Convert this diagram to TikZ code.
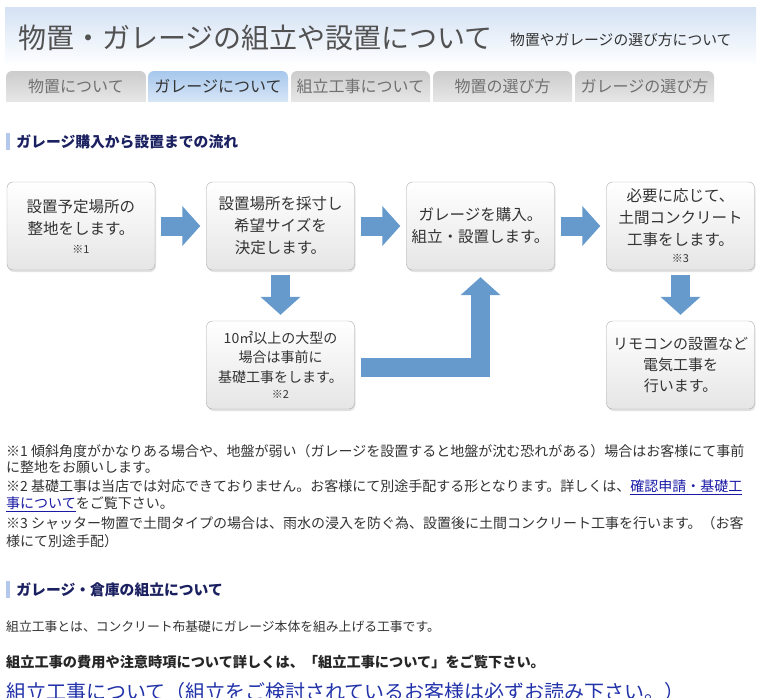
\documentclass[tikz,border=0pt]{standalone}
\usepackage{fontspec}
\setmainfont{Noto Sans CJK JP}
\usetikzlibrary{arrows.meta,shadows,positioning}

\definecolor{flowblue}{RGB}{102,153,204}
\definecolor{boxgray}{RGB}{170,170,170}
\definecolor{txtgray}{RGB}{51,51,51}
\definecolor{tabtxt}{RGB}{112,112,112}
\definecolor{headnavy}{RGB}{26,32,96}
\definecolor{barblue}{RGB}{180,200,238}
\definecolor{linkblue}{RGB}{26,26,166}
\definecolor{bigblue}{RGB}{34,51,170}
\definecolor{bandblue}{RGB}{212,226,244}

\tikzset{
  stepbox/.style={draw=boxgray, rounded corners=6pt, top color=white, bottom color=black!10,
    minimum width=148pt, minimum height=88pt, align=center, text=txtgray,
    font=\fontsize{15.5}{22}\selectfont,
    drop shadow={opacity=0.22, shadow xshift=1pt, shadow yshift=-2pt}},
  flow/.style={draw=flowblue, line width=19pt, -{Triangle[width=39pt,length=18pt]},
    shorten <=6pt, shorten >=6pt},
  tabshape/.style={rounded corners=6pt, top color=black!20, bottom color=black!6},
  tabon/.style={rounded corners=6pt, top color={rgb,255:red,166;green,199;blue,236}, bottom color={rgb,255:red,232;green,240;blue,250}},
  tablabel/.style={font=\fontsize{16}{18}\selectfont, text=tabtxt},
  secbar/.style={fill=barblue, minimum width=4pt, minimum height=17pt, inner sep=0pt},
  sechead/.style={font=\fontsize{14.8}{17}\selectfont\bfseries, text=headnavy, inner sep=0pt},
  note/.style={anchor=west, inner sep=0pt, font=\fontsize{14}{16}\selectfont, text=txtgray}
}

\begin{document}
\begin{tikzpicture}[x=1pt,y=-1pt]
    \useasboundingbox (0,0) rectangle (766,697);
    \fill[white] (0,0) rectangle (766,697);

    % header band
    \shade[top color=bandblue, middle color=bandblue!40, bottom color=white] (5,7) rectangle (756,66);
    \node[anchor=west, inner sep=0pt, font=\fontsize{28}{30}\selectfont, text=black!68] (title) at (18,38)
      {物置・ガレージの組立や設置について};
    \node[anchor=west, inner sep=0pt, font=\fontsize{14.8}{16}\selectfont, text=txtgray] (subtitle) at (510,40)
      {物置やガレージの選び方について};

    % tabs
    \begin{scope}
      \clip (0,60) rectangle (766,101);
      \foreach \a/\b in {6/146, 291/430, 433/572, 575/714}
        \path[tabshape] (\a,71) rectangle (\b,112);
      \path[tabon] (148,71) rectangle (288,112);
    \end{scope}
    \node[tablabel] (tab1) at (76,86) {物置について};
    \node[tablabel, text=txtgray] (tab2) at (218,86) {ガレージについて};
    \node[tablabel] (tab3) at (360.5,86) {組立工事について};
    \node[tablabel] (tab4) at (502.5,86) {物置の選び方};
    \node[tablabel] (tab5) at (644.5,86) {ガレージの選び方};

    % flow section
    \node[secbar] (bar1) at (8,141.5) {};
    \node[sechead, anchor=west, right=6pt of bar1] (head1) {ガレージ購入から設置までの流れ};

    \node[stepbox] (b1) at (81,226) {設置予定場所の\\整地をします。\\[-3pt]{\fontsize{11}{13}\selectfont ※1}};
    \node[stepbox] (b2) at (280.5,226) {設置場所を採寸し\\希望サイズを\\決定します。};
    \node[stepbox] (b3) at (480.5,226) {ガレージを購入。\\組立・設置します。};
    \node[stepbox] (b4) at (680.5,226) {必要に応じて、\\土間コンクリート\\工事をします。\\[-5pt]{\fontsize{11}{13}\selectfont ※3}};
    \node[stepbox, font=\fontsize{14}{19.5}\selectfont] (b5) at (280.5,365)
      {10㎡以上の大型の\\場合は事前に\\基礎工事をします。\\[-3pt]{\fontsize{11}{13}\selectfont ※2}};
    \node[stepbox, font=\fontsize{15}{21}\selectfont] (b6) at (680.5,365) {リモコンの設置など\\電気工事を\\行います。};

    \draw[flow] (b1) -- (b2);
    \draw[flow] (b2) -- (b3);
    \draw[flow] (b3) -- (b4);
    \draw[flow, shorten <=5pt] (b2) -- (b5);
    \draw[flow, shorten <=5pt] (b4) -- (b6);
    \draw[flow, shorten >=7pt] ([yshift=-2pt]b5.east) -| (b3.south);

    % notes
    \node[note] (n1) at (6,451) {※1 傾斜角度がかなりある場合や、地盤が弱い（ガレージを設置すると地盤が沈む恐れがある）場合はお客様にて事前};
    \node[note] (n2) at (6,467) {に整地をお願いします。};
    \node[note] (n3) at (6,487) {※2 基礎工事は当店では対応できておりません。お客様にて別途手配する形となります。詳しくは、\textcolor{linkblue}{\underline{確認申請・基礎工}}};
    \node[note] (n4) at (6,504) {\textcolor{linkblue}{\underline{事について}}をご覧下さい。};
    \node[note] (n5) at (6,523) {※3 シャッター物置で土間タイプの場合は、雨水の浸入を防ぐ為、設置後に土間コンクリート工事を行います。（お客};
    \node[note] (n6) at (6,541) {様にて別途手配）};

    % assembly section
    \node[secbar] (bar2) at (8,589.5) {};
    \node[sechead, anchor=west, right=6pt of bar2] (head2) {ガレージ・倉庫の組立について};
    \node[note, font=\fontsize{12.8}{15}\selectfont] (p1) at (6,627) {組立工事とは、コンクリート布基礎にガレージ本体を組み上げる工事です。};
    \node[note, font=\fontsize{14.2}{16}\selectfont\bfseries, text=black!85] (p2) at (6,662) {組立工事の費用や注意時項について詳しくは、「組立工事について」をご覧下さい。};
    \node[anchor=base west, inner sep=0pt, font=\fontsize{20}{22}\selectfont, text=bigblue] (p3) at (6,699)
      {組立工事について（組立をご検討されているお客様は必ずお読み下さい。）};

\end{tikzpicture}
\end{document}
